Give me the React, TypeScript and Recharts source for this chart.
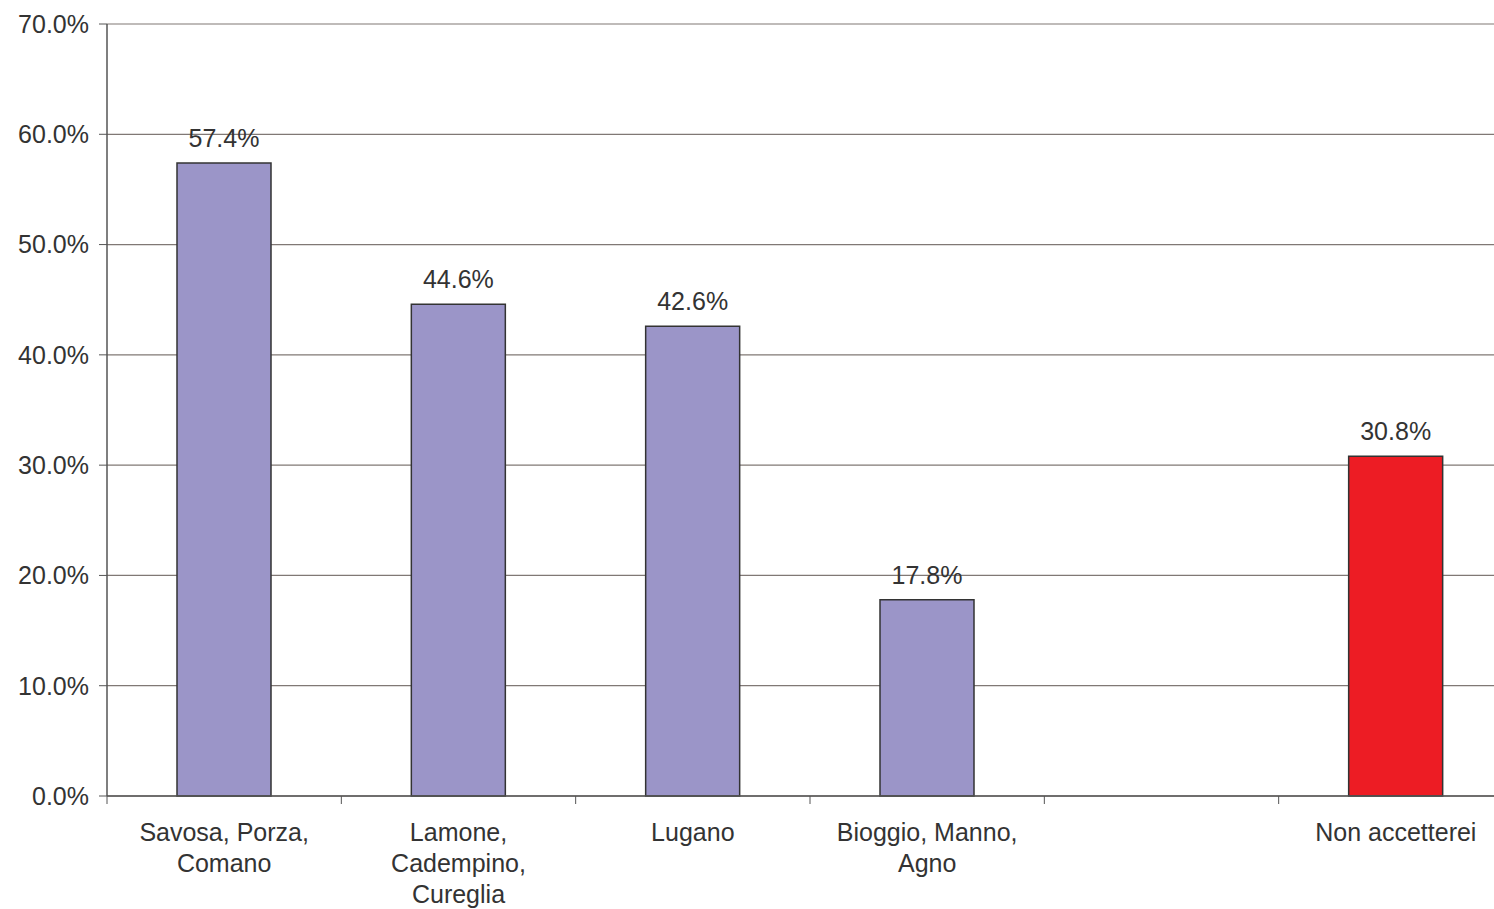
import { Bar, BarChart, CartesianGrid, Cell, LabelList, XAxis, YAxis } from "recharts";

// Comuni di preferenza (quota di risposte)
const categories = [
  "Savosa, Porza,\nComano",
  "Lamone,\nCadempino,\nCureglia",
  "Lugano",
  "Bioggio, Manno,\nAgno",
  "",
  "Non accetterei",
];
const values: (number | null)[] = [57.4, 44.6, 42.6, 17.8, null, 30.8];
const yTicks = [0, 10, 20, 30, 40, 50, 60, 70];
const highlight = "Non accetterei";

const data = categories.map((name, i) => ({ name, value: values[i] }));

const FONT = "'Liberation Sans', Arial, Helvetica, sans-serif";
const TEXT = "#333333";
const AXIS = "#555555";
const CHART_W = 1513;
const CHART_H = 909;
const LEFT = 107;
const HALF_STEP = (CHART_W - LEFT) / categories.length / 2;

const pct = (v: number) => `${v.toFixed(1)}%`;

function XTick({ x, y, payload }: any) {
  const lines = String(payload.value).split("\n");
  const bx = x - HALF_STEP;
  return (
    <g>
      <line x1={bx} x2={bx} y1={y} y2={y + 8} stroke={AXIS} strokeWidth={1} />
      <text x={x} y={y + 45} textAnchor="middle" fontSize={25} fill={TEXT} fontFamily={FONT}>
        {lines.map((l, i) => (
          <tspan key={i} x={x} dy={i === 0 ? 0 : 31}>
            {l}
          </tspan>
        ))}
      </text>
    </g>
  );
}

export default function App() {
  return (
    <div
      style={{
        position: "fixed",
        left: 0,
        top: 0,
        width: 1494,
        height: 909,
        overflow: "hidden",
        background: "#fff",
      }}
    >
      <BarChart
        width={CHART_W}
        height={CHART_H}
        data={data}
        margin={{ top: 24, right: 0, left: 0, bottom: 0 }}
        barCategoryGap={0}
      >
        <CartesianGrid vertical={false} stroke="#807875" strokeWidth={1.2} />
        <XAxis
          dataKey="name"
          interval={0}
          height={113}
          tickSize={0}
          tickMargin={0}
          tickLine={false}
          axisLine={{ stroke: AXIS, strokeWidth: 1.5 }}
          tick={<XTick />}
        />
        <YAxis
          width={LEFT}
          domain={[0, 70]}
          ticks={yTicks}
          tickFormatter={pct}
          tickSize={8}
          tickMargin={10}
          axisLine={{ stroke: AXIS, strokeWidth: 1.5 }}
          tickLine={{ stroke: AXIS }}
          tick={{ fontSize: 25, fill: TEXT, fontFamily: FONT }}
        />
        <Bar dataKey="value" barSize={94} stroke="#333333" strokeWidth={1.5} isAnimationActive={false}>
          {data.map((d, i) => (
            <Cell key={i} fill={d.name === highlight ? "#ed1c24" : "#9b95c8"} />
          ))}
          <LabelList
            dataKey="value"
            position="top"
            offset={16}
            formatter={(v: any) => (v == null ? "" : pct(Number(v)))}
            style={{ fontSize: 25, fill: TEXT, fontFamily: FONT }}
          />
        </Bar>
      </BarChart>
    </div>
  );
}
